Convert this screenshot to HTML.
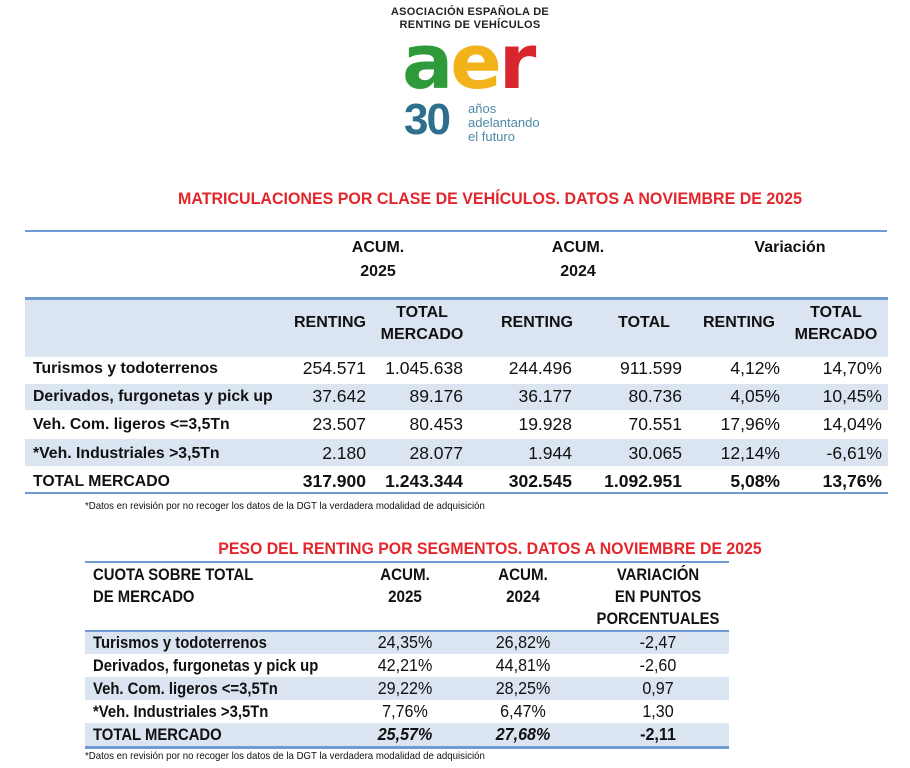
<!DOCTYPE html>
<html><head><meta charset="utf-8"><style>
body{margin:0;background:#fff;width:910px;height:768px;position:relative;overflow:hidden;font-family:"Liberation Sans",Arial,sans-serif;color:#111}
.a{position:absolute;white-space:nowrap}
.b{font-weight:bold}
.r{text-align:right}
.c{text-align:center}
.sh{position:absolute;background:#dbe5f1}
.ln{position:absolute;background:#6f9bd1}
.t1{font-size:16px}
.num{font-size:17.5px}
</style></head><body>
<div class="a b c" style="left:380px;top:6px;width:180px;font-size:11px;line-height:13px;letter-spacing:0.3px;color:#222">ASOCIACIÓN ESPAÑOLA DE<br>RENTING DE VEHÍCULOS</div>
<div class="a b" style="left:402px;top:22px;font-size:76px;line-height:80px;letter-spacing:-3px;font-family:'DejaVu Sans',sans-serif"><span style="color:#2f9a3a">a</span><span style="color:#f2b21a">e</span><span style="color:#d7262e">r</span></div>
<div class="a b" style="left:404px;top:96px;font-size:44px;line-height:48px;color:#2e6f8e;letter-spacing:-2px">30</div>
<div class="a" style="left:468px;top:102px;font-size:13px;line-height:14px;color:#4b8aa6">años<br>adelantando<br>el futuro</div>

<div class="a b c" style="left:0;top:190px;width:980px;font-size:16.5px;color:#e3262b;transform:scaleX(0.97);transform-origin:490px 0">MATRICULACIONES POR CLASE DE VEHÍCULOS. DATOS A NOVIEMBRE DE 2025</div>

<div class="ln" style="left:25px;top:230px;width:862px;height:2px"></div>
<div class="a b c t1" style="left:318px;top:236px;width:120px;line-height:24px">ACUM.<br>2025</div>
<div class="a b c t1" style="left:518px;top:236px;width:120px;line-height:24px">ACUM.<br>2024</div>
<div class="a b c t1" style="left:730px;top:236px;width:120px;line-height:24px">Variación</div>

<div class="sh" style="left:25px;top:298px;width:863px;height:59px"></div>
<div class="ln" style="left:25px;top:297px;width:863px;height:3px"></div>
<div class="a b c t1" style="left:290px;top:314px;width:80px">RENTING</div>
<div class="a b c t1" style="left:372px;top:302px;width:100px;line-height:22px">TOTAL<br>MERCADO</div>
<div class="a b c t1" style="left:497px;top:314px;width:80px">RENTING</div>
<div class="a b c t1" style="left:604px;top:314px;width:80px">TOTAL</div>
<div class="a b c t1" style="left:699px;top:314px;width:80px">RENTING</div>
<div class="a b c t1" style="left:786px;top:302px;width:100px;line-height:22px">TOTAL<br>MERCADO</div>

<div class="sh" style="left:25px;top:384px;width:863px;height:26px"></div>
<div class="sh" style="left:25px;top:439px;width:863px;height:27px"></div>

<div class="a b" style="left:33px;top:355px;font-size:15.8px;line-height:28.2px">Turismos y todoterrenos<br>Derivados, furgonetas y pick up<br>Veh. Com. ligeros &lt;=3,5Tn<br>*Veh. Industriales &gt;3,5Tn<br>TOTAL MERCADO</div>
<div class="a r num" style="left:266px;top:354px;width:100px;line-height:28.2px">254.571<br>37.642<br>23.507<br>2.180<br><b>317.900</b></div>
<div class="a r num" style="left:363px;top:354px;width:100px;line-height:28.2px">1.045.638<br>89.176<br>80.453<br>28.077<br><b>1.243.344</b></div>
<div class="a r num" style="left:472px;top:354px;width:100px;line-height:28.2px">244.496<br>36.177<br>19.928<br>1.944<br><b>302.545</b></div>
<div class="a r num" style="left:582px;top:354px;width:100px;line-height:28.2px">911.599<br>80.736<br>70.551<br>30.065<br><b>1.092.951</b></div>
<div class="a r num" style="left:680px;top:354px;width:100px;line-height:28.2px">4,12%<br>4,05%<br>17,96%<br>12,14%<br><b>5,08%</b></div>
<div class="a r num" style="left:782px;top:354px;width:100px;line-height:28.2px">14,70%<br>10,45%<br>14,04%<br>-6,61%<br><b>13,76%</b></div>
<div class="ln" style="left:25px;top:492px;width:863px;height:2px"></div>
<div class="a" style="left:85px;top:500px;font-size:10.5px;transform:scaleX(0.92);transform-origin:0 0">*Datos en revisión por no recoger los datos de la DGT la verdadera modalidad de adquisición</div>

<div class="a b c" style="left:0;top:540px;width:980px;font-size:16.5px;color:#e3262b;transform:scaleX(0.96);transform-origin:490px 0">PESO DEL RENTING POR SEGMENTOS. DATOS A NOVIEMBRE DE 2025</div>
<div class="ln" style="left:85px;top:561px;width:644px;height:2px"></div>
<div class="a b" style="left:93px;top:564px;font-size:16.5px;line-height:22px;transform:scaleX(0.9);transform-origin:0 0">CUOTA SOBRE TOTAL<br>DE MERCADO</div>
<div class="a b c" style="left:355px;top:564px;width:100px;font-size:16.5px;line-height:22px;transform:scaleX(0.92)">ACUM.<br>2025</div>
<div class="a b c" style="left:473px;top:564px;width:100px;font-size:16.5px;line-height:22px;transform:scaleX(0.92)">ACUM.<br>2024</div>
<div class="a b c" style="left:588px;top:564px;width:140px;font-size:16.5px;line-height:22px;transform:scaleX(0.9)">VARIACIÓN<br>EN PUNTOS<br>PORCENTUALES</div>
<div class="sh" style="left:85px;top:631px;width:644px;height:23px"></div>
<div class="sh" style="left:85px;top:677px;width:644px;height:23px"></div>
<div class="sh" style="left:85px;top:723px;width:644px;height:23px"></div>
<div class="ln" style="left:85px;top:630px;width:644px;height:2px"></div>
<div class="a b" style="left:93px;top:632px;font-size:16.5px;line-height:23px;transform:scaleX(0.9);transform-origin:0 0">Turismos y todoterrenos<br>Derivados, furgonetas y pick up<br>Veh. Com. ligeros &lt;=3,5Tn<br>*Veh. Industriales &gt;3,5Tn<br>TOTAL MERCADO</div>
<div class="a c" style="left:355px;top:631px;width:100px;font-size:17.5px;line-height:23px;transform:scaleX(0.92)">24,35%<br>42,21%<br>29,22%<br>7,76%<br><b><i>25,57%</i></b></div>
<div class="a c" style="left:473px;top:631px;width:100px;font-size:17.5px;line-height:23px;transform:scaleX(0.92)">26,82%<br>44,81%<br>28,25%<br>6,47%<br><b><i>27,68%</i></b></div>
<div class="a c" style="left:608px;top:631px;width:100px;font-size:17.5px;line-height:23px;transform:scaleX(0.92)">-2,47<br>-2,60<br>0,97<br>1,30<br><b>-2,11</b></div>
<div class="ln" style="left:85px;top:746px;width:644px;height:3px"></div>
<div class="a" style="left:85px;top:750px;font-size:10.5px;transform:scaleX(0.92);transform-origin:0 0">*Datos en revisión por no recoger los datos de la DGT la verdadera modalidad de adquisición</div>
</body></html>
